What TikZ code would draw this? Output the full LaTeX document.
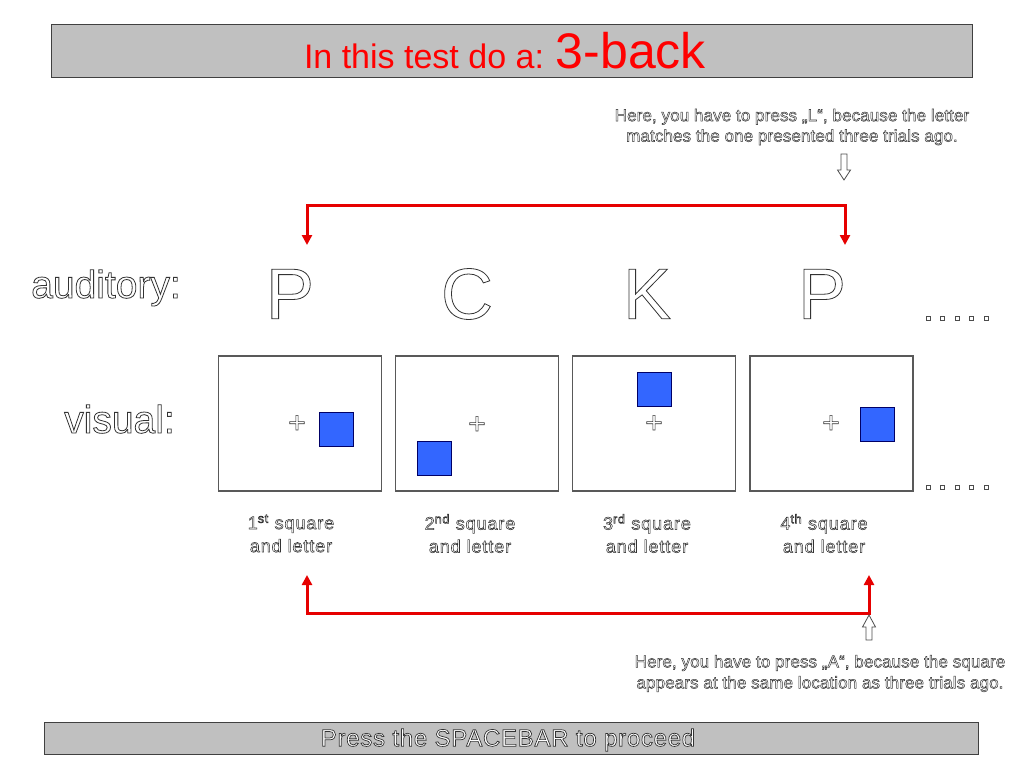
\documentclass[tikz,border=0pt]{standalone}
\usepackage{fontspec}
\setmainfont{Liberation Sans}
\usetikzlibrary{arrows.meta}
\newcommand\outl[2][0.8]{{\color{white}\special{pdf:literal direct 0.2 G #1 w 2 Tr}#2\special{pdf:literal direct 0 Tr}}}
\newcommand\fs[2]{\fontsize{#1}{#2}\selectfont}
\definecolor{barfill}{RGB}{192,192,192}
\definecolor{sqblue}{RGB}{51,102,255}
\definecolor{redline}{RGB}{230,0,0}
\definecolor{titlered}{RGB}{255,0,0}
\begin{document}
\begin{tikzpicture}[x=1pt,y=-1pt,
  bar/.style={draw=black!75, line width=1, fill=barfill, inner sep=0},
  frame/.style={draw=black!65, line width=1.6, fill=white, minimum width=163, minimum height=135, inner sep=0},
  bsq/.style={draw=black!60!blue, line width=0.8, fill=sqblue, minimum size=34, inner sep=0},
  redc/.style={draw=redline, line width=3, {Triangle[length=10,width=10]}-{Triangle[length=10,width=10]}},
  hollow/.style={draw=black!70, line width=0.8, fill=white},
  dotsq/.style={draw=black!70, line width=0.7, fill=white, minimum size=4, inner sep=0},
  big/.style={font=\fs{72}{80}, inner sep=0},
  cross/.style={font=\fs{30}{34}, inner sep=0},
  lab/.style={font=\fs{18}{23}\addfontfeature{LetterSpace=5}, align=center, inner sep=0},
  hint/.style={font=\fs{17}{20.5}\addfontfeature{LetterSpace=1}, align=center, inner sep=0}
]
\useasboundingbox (0,0) rectangle (1024,768);

% title bar
\node[bar, minimum width=921, minimum height=52] (topbar) at (511.5,51) {};
\node[text=titlered, anchor=base, inner sep=0] (title) at (505,68) {\fs{34}{40}In this test do a:\hspace{0.35em}\fs{50}{60}3-back};

% top hint
\node[hint, font=\fs{17}{20.5}\addfontfeature{LetterSpace=0.6}] (hintL) at (792,127) {\outl[0.5]{Here, you have to press „L“, because the letter}\\\outl[0.5]{matches the one presented three trials ago.}};
\draw[hollow] (841,154) -- (841,170) -- (837.5,170) -- (844,180) -- (850.5,170) -- (847,170) -- (847,154) -- cycle;

% red connector top
\coordinate (rt1) at (307,245);
\coordinate (rt2) at (845,245);
\draw[redc] (rt1) -- (307,205) -- (845,205) -- (rt2);

% row labels
\node[font=\fs{39}{44}, anchor=base east, inner sep=0] (aud) at (181,298) {\outl{auditory:}};
\node[font=\fs{39}{44}, anchor=base east, inner sep=0] (vis) at (175,433) {\outl{visual:}};

% letters
\node[big] (l1) at (290,294) {\outl{P}};
\node[big] (l2) at (467,294) {\outl{C}};
\node[big] (l3) at (647,294) {\outl{K}};
\node[big] (l4) at (822,294) {\outl{P}};

% frames
\node[frame] (f1) at (300,423.5) {};
\node[frame] (f2) at (477,423.5) {};
\node[frame] (f3) at (654,423.5) {};
\node[frame] (f4) at (831.5,423.5) {};

% crosses
\node[cross] (c1) at (297,424) {\outl[0.6]{+}};
\node[cross] (c2) at (477,425) {\outl[0.6]{+}};
\node[cross] (c3) at (654,424) {\outl[0.6]{+}};
\node[cross] (c4) at (831,424) {\outl[0.6]{+}};

% blue squares
\node[bsq] (s1) at (336,429) {};
\node[bsq] (s2) at (434,458) {};
\node[bsq] (s3) at (654,389) {};
\node[bsq] (s4) at (877,424) {};

% dots
\foreach \i in {0,...,4} {
  \node[dotsq] (da\i) at (928+14.5*\i,318) {};
  \node[dotsq] (db\i) at (928+14.5*\i,487) {};
}

% captions
\node[lab] (lab1) at (291,533.5) {\outl[0.55]{1\textsuperscript{st} square}\\\outl[0.55]{and letter}};
\node[lab] (lab2) at (470,533.5) {\outl[0.55]{2\textsuperscript{nd} square}\\\outl[0.55]{and letter}};
\node[lab] (lab3) at (647,533.5) {\outl[0.55]{3\textsuperscript{rd} square}\\\outl[0.55]{and letter}};
\node[lab] (lab4) at (824,533.5) {\outl[0.55]{4\textsuperscript{th} square}\\\outl[0.55]{and letter}};

% red connector bottom
\coordinate (rb1) at (307,575);
\coordinate (rb2) at (869,575);
\draw[redc] (rb1) -- (307,613) -- (869,613) -- (rb2);
\draw[hollow] (866,640) -- (866,627) -- (862.5,627) -- (869,615) -- (875.5,627) -- (872,627) -- (872,640) -- cycle;

% bottom hint
\node[hint, font=\fs{17}{21}\addfontfeature{LetterSpace=0.6}] (hintA) at (820,673.5) {\outl[0.5]{Here, you have to press „A“, because the square}\\\outl[0.5]{appears at the same location as three trials ago.}};

% bottom bar
\node[bar, minimum width=934, minimum height=32] (botbar) at (511,738) {};
\node[font=\fs{24}{28}\addfontfeature{LetterSpace=3}, inner sep=0] (press) at (508,740) {\outl[0.7]{Press the SPACEBAR to proceed}};
\end{tikzpicture}
\end{document}
